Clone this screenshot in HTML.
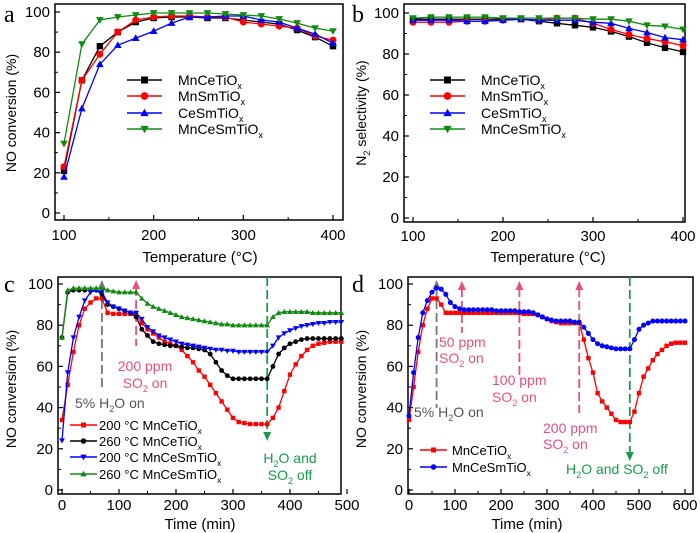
<!DOCTYPE html>
<html><head><meta charset="utf-8">
<style>
html,body{margin:0;padding:0;background:#fff;width:700px;height:533px;overflow:hidden}
svg{display:block;font-family:"Liberation Sans",Arial,sans-serif}
</style></head>
<body>
<svg id="fig" width="700" height="533" viewBox="0 0 700 533" xmlns="http://www.w3.org/2000/svg"></svg>
<script>
// ---- Data ----
const tempsA = [100,120,140,160,180,200,220,240,260,280,300,320,340,360,380,400];
const aMnCe = [21,66,83,90,95,97,97.5,97.5,97,97,96,95,94,91,87.5,83];
const aMnSm = [23,66,79,90,96,97.5,98,98,97.5,97.5,95,94,93,92,88,86];
const aCeSm = [18,52,74,83.5,87,90.5,94.5,97.5,97.5,98,98,96,95,92,89,84.5];
const aMnCeSm = [34.5,84,96,97.5,98.5,99.5,99.5,99.5,99.5,99,98.5,98,96.5,94.5,92,90.5];

const bMnCe = [97,97,97,97,97,97,97,96,95,94,93,91,88.5,85.5,83,81];
const bMnSm = [95.5,95.5,95.5,96,96,96.5,97,96.5,97.5,97.5,95,92,89.5,87.5,86,84];
const bCeSm = [96.5,96.5,96.5,96,96,96.5,97,96.5,96.5,96.5,95.5,95,92.5,90.5,88,87];
const bMnCeSm = [97.5,98,98,98,98,97.5,97.5,97.5,97.5,97.5,97,97,96,94,93.5,92];

const timesC = [0,10,20,30,40,50,60,70,80,90,100,110,120,130,140,150,160,170,180,190,200,210,220,230,240,250,260,270,280,290,300,310,320,330,340,350,360,370,380,390,400,410,420,430,440,450,460,470,480,490];
const c200MnCe = [34,51,67,80,88,91,93,93,86,85.5,85.5,85.5,85.5,85,81,78,76,74,72,71,70,68,65,62,58,55,51,47,43,39,35,33,32.5,32,32,32,32,35,40,48,56,61,65,68,70,71,71.5,72,72,72];
const c260MnCe = [74,96,97,97,97,97,97,95,90,89,88,87,86,84,78,75,72,71,70.5,70,70,69.5,69,69,68.5,68,66,62,58,55.5,54,54,54,54,54,54,54,60,66,69,71,72,73,73.5,73.5,73.5,73.5,73.5,73.5,73.5];
const c200MnCeSm = [24,57,74,84,92,96,97,96,91,89,88,87,86,86,83,79,77,75,74,73,72,71,70.5,70,69.5,69,68.5,68,68,67.5,67.5,67,67,67,67,67,67,70,74,76,77.5,78.5,79.5,80,80.5,81,81,81.5,81.5,81.5];
const c260MnCeSm = [74,97,98,98,98,98,98,98,97,96.5,96,96,96,96,93,90.5,89,88,87,86,85,84,83.5,83,82.5,82,81.5,81,80.5,80.5,80,80,80,80,80,80,80,84,86,86.5,86.5,86.5,86.5,86.5,86,86,86,86,86,86];

const timesD = [0,10,20,30,40,50,60,70,80,90,100,110,120,130,140,150,160,170,180,190,200,210,220,230,240,250,260,270,280,290,300,310,320,330,340,350,360,370,380,390,400,410,420,430,440,450,460,470,480,490,500,510,520,530,540,550,560,570,580,590,600];
const dMnCe = [34,50,67,80,88,93,93,90,86,86,86,86,86,86,86,86,86,86,86,86,86,86,86,86,86,85.5,85.5,85.5,85,84,83,82,81.5,81,81,81,81,81,73,64,57,47,43,40,37,34,33,33,33,38,47,55,59,63,66,68,70,71,71.5,71.5,71.5];
const dMnCeSm = [36,57,74,86,92,96,98,97.5,95,91,89,88,87.5,87.5,87.5,87.5,87.5,87.5,87.5,87,87,87,87,87,86.5,86.5,86.5,86,85,84,83,82.5,82,82,82,82,81.5,81.5,79,76,73,71,70,69.5,69,68.5,68.5,68.5,68.5,73,78,80,81,82,82,82,82,82,82,82,82];

// ---- Helpers ----
const NS = "http://www.w3.org/2000/svg";
const svg = document.getElementById('fig');
function el(tag, attrs, parent){const e=document.createElementNS(NS,tag);for(const k in attrs)e.setAttribute(k,attrs[k]);(parent||svg).appendChild(e);return e;}
function scale(d0,d1,r0,r1){return v=>r0+(v-d0)*(r1-r0)/(d1-d0);}

function marker(g,type,x,y,r,color){
  let m;
  if(type==='square') m=el('rect',{x:x-r,y:y-r,width:2*r,height:2*r,fill:color},g);
  else if(type==='circle') m=el('circle',{cx:x,cy:y,r:r*1.1,fill:color},g);
  else if(type==='up') m=el('polygon',{points:`${x},${y-r*1.2} ${x-r*1.2},${y+r*0.9} ${x+r*1.2},${y+r*0.9}`,fill:color},g);
  else m=el('polygon',{points:`${x},${y+r*1.2} ${x-r*1.2},${y-r*0.9} ${x+r*1.2},${y-r*0.9}`,fill:color},g);
  
  
}

function series(g,name,xs,ys,sx,sy,color,type,r){
  const s=el('g',{},g);
  
  
  const pts=xs.map((x,i)=>sx(x).toFixed(1)+','+sy(ys[i]).toFixed(1)).join(' ');
  el('polyline',{points:pts,fill:'none',stroke:color,'stroke-width':1.3},s);
  xs.forEach((x,i)=>marker(s,type,sx(x),sy(ys[i]),r,color));
}

function subText(g,x,y,parts,size,color,anchor){
  const t=el('text',{x:x,y:y,'font-size':size,fill:color,'text-anchor':anchor||'start'},g);
  parts.forEach(p=>{
    const ts=el('tspan',{},t);
    ts.textContent=p[0];
    if(p[1]==='sub'){ts.setAttribute('font-size',size*0.65);ts.setAttribute('dy',size*0.3);}
    if(p[1]==='back'){ts.setAttribute('dy',-size*0.3);}
  });
  return t;
}

function axes(cfg){
  const g=el('g',{});
  
  
  el('rect',{x:cfg.box[0],y:cfg.box[1],width:cfg.box[2]-cfg.box[0],height:cfg.box[3]-cfg.box[1],fill:'none',stroke:'#000','stroke-width':1.5},g);
  const sx=scale(cfg.xd[0],cfg.xd[1],cfg.xr[0],cfg.xr[1]);
  const sy=scale(0,100,cfg.y0,cfg.y100);
  const bot=cfg.box[3],left=cfg.box[0];
  cfg.xticks.forEach(v=>{
    const x=sx(v);
    el('line',{x1:x,y1:bot,x2:x,y2:bot-5,stroke:'#000','stroke-width':1.2},g);
    const t=el('text',{x:x,y:bot+cfg.tickDy,'font-size':15,'text-anchor':'middle'},g);
    t.textContent=v;
    
    
  });
  cfg.xminor.forEach(v=>{const x=sx(v);el('line',{x1:x,y1:bot,x2:x,y2:bot-3,stroke:'#000','stroke-width':1},g);});
  [0,20,40,60,80,100].forEach(v=>{
    const y=sy(v);
    el('line',{x1:left,y1:y,x2:left+5,y2:y,stroke:'#000','stroke-width':1.2},g);
    const t=el('text',{x:left-5,y:y+5,'font-size':15,'text-anchor':'end'},g);
    t.textContent=v;
    
    
  });
  [10,30,50,70,90].forEach(v=>{const y=sy(v);el('line',{x1:left,y1:y,x2:left+3,y2:y,stroke:'#000','stroke-width':1},g);});
  const xt=el('text',{x:cfg.xtitle[0],y:cfg.xtitle[1],'font-size':15,'text-anchor':'middle'},g);
  xt.textContent=cfg.xtitle[2];
  
  
  const yg=el('g',{transform:`translate(${cfg.ytitle[0]},${cfg.ytitle[1]}) rotate(-90)`},g);
  const yt=subText(yg,0,0,cfg.ytitle[2],14,'#000','middle');
  
  
  const pl=el('text',{x:cfg.letter[0],y:cfg.letter[1],'font-size':24,'font-family':'Liberation Serif, serif'},g);
  pl.textContent=cfg.letter[2];
  
  
  return {g,sx,sy};
}

function legendEntry(g,x1,x2,tx,y,color,type,r,parts,size){
  const le=el('g',{},g);
  
  
  el('line',{x1:x1,y1:y,x2:x2,y2:y,stroke:color,'stroke-width':1.5},le);
  marker(le,type,(x1+x2)/2,y,r,color);
  subText(le,tx,y+5,parts,size,'#000');
}

function arrow(g,x,yTop,yBot,color,up,name){
  const a=el('g',{},g);
  
  
  if(up){
    el('line',{x1:x,y1:yTop+7,x2:x,y2:yBot,stroke:color,'stroke-width':1.8,'stroke-dasharray':'9,4'},a);
    el('polygon',{points:`${x},${yTop} ${x-4},${yTop+9} ${x+4},${yTop+9}`,fill:color},a);
  } else {
    el('line',{x1:x,y1:yTop,x2:x,y2:yBot-7,stroke:color,'stroke-width':1.8,'stroke-dasharray':'9,4'},a);
    el('polygon',{points:`${x},${yBot} ${x-4},${yBot-9} ${x+4},${yBot-9}`,fill:color},a);
  }
}

const BL='#000', RD='#f00', BU='#00f', GN='#108a10';
const PINK='#e8507a', GRAY='#777', DGN='#1a9a4a';

// ---- Panel a ----
const A=axes({name:'panel-a',box:[55,4,343,220],xd:[100,400],xr:[64,333],y0:213,y100:12,tickDy:20,
  xticks:[100,200,300,400],xminor:[150,250,350],xtitle:[200,262,'Temperature (°C)'],
  ytitle:[16,113,[['NO conversion (%)']]],letter:[4,22,'a']});
series(A.g,'series-mncetiox',tempsA,aMnCe,A.sx,A.sy,BL,'square',3.2);
series(A.g,'series-mnsmtiox',tempsA,aMnSm,A.sx,A.sy,RD,'circle',3.2);
series(A.g,'series-cesmtiox',tempsA,aCeSm,A.sx,A.sy,BU,'up',3.2);
series(A.g,'series-mncesmtiox',tempsA,aMnCeSm,A.sx,A.sy,GN,'down',3.2);
const LA=el('g',{});
legendEntry(LA,127,162,178,80,BL,'square',3.5,[['MnCeTiO'],['x','sub']],14);
legendEntry(LA,127,162,178,96,RD,'circle',3.5,[['MnSmTiO'],['x','sub']],14);
legendEntry(LA,127,162,178,113,BU,'up',3.5,[['CeSmTiO'],['x','sub']],14);
legendEntry(LA,127,162,178,129,GN,'down',3.5,[['MnCeSmTiO'],['x','sub']],14);

// ---- Panel b ----
const B=axes({name:'panel-b',box:[404,4,685,222],xd:[100,400],xr:[413,683],y0:218,y100:13,tickDy:19,
  xticks:[100,200,300,400],xminor:[150,250,350],xtitle:[548,262,'Temperature (°C)'],
  ytitle:[366,113,[['N'],['2','sub'],[' selectivity (%)','back']]],letter:[352,22,'b']});
series(B.g,'series-mncetiox',tempsA,bMnCe,B.sx,B.sy,BL,'square',3.2);
series(B.g,'series-mnsmtiox',tempsA,bMnSm,B.sx,B.sy,RD,'circle',3.2);
series(B.g,'series-cesmtiox',tempsA,bCeSm,B.sx,B.sy,BU,'up',3.2);
series(B.g,'series-mncesmtiox',tempsA,bMnCeSm,B.sx,B.sy,GN,'down',3.2);
const LB=el('g',{});
legendEntry(LB,430,465,481,80,BL,'square',3.5,[['MnCeTiO'],['x','sub']],14);
legendEntry(LB,430,465,481,96,RD,'circle',3.5,[['MnSmTiO'],['x','sub']],14);
legendEntry(LB,430,465,481,113,BU,'up',3.5,[['CeSmTiO'],['x','sub']],14);
legendEntry(LB,430,465,481,129,GN,'down',3.5,[['MnCeSmTiO'],['x','sub']],14);

// ---- Panel c ----
const C=axes({name:'panel-c',box:[58,277,341,494],xd:[0,500],xr:[62,347],y0:490,y100:284,tickDy:16,
  xticks:[0,100,200,300,400,500],xminor:[50,150,250,350,450],xtitle:[200,529,'Time (min)'],
  ytitle:[16,389,[['NO conversion (%)']]],letter:[4,292,'c']});
arrow(C.g,C.sx(70),280,390,GRAY,true,'water-on-arrow');
arrow(C.g,C.sx(130),280,346,PINK,true,'so2-on-arrow');
arrow(C.g,C.sx(360),277,441,DGN,false,'gases-off-arrow');
series(C.g,'series-200-mncetiox',timesC,c200MnCe,C.sx,C.sy,RD,'square',2.2);
series(C.g,'series-260-mncetiox',timesC,c260MnCe,C.sx,C.sy,BL,'circle',2.2);
series(C.g,'series-200-mncesmtiox',timesC,c200MnCeSm,C.sx,C.sy,BU,'down',2.4);
series(C.g,'series-260-mncesmtiox',timesC,c260MnCeSm,C.sx,C.sy,GN,'up',2.4);
let t;
t=subText(C.g,75,408,[['5% H'],['2','sub'],['O on','back']],14,'#555');
t=subText(C.g,145,371,[['200 ppm']],14,PINK,'middle');
t=subText(C.g,145,388,[['SO'],['2','sub'],[' on','back']],14,PINK,'middle');
t=subText(C.g,290,463,[['H'],['2','sub'],['O and','back']],14,DGN,'middle');
t=subText(C.g,290,480,[['SO'],['2','sub'],[' off','back']],14,DGN,'middle');
const LC=el('g',{});
legendEntry(LC,70,97,99,425,RD,'square',2.5,[['200 °C MnCeTiO'],['x','sub']],13);
legendEntry(LC,70,97,99,441,BL,'circle',2.5,[['260 °C MnCeTiO'],['x','sub']],13);
legendEntry(LC,70,97,99,457,BU,'down',2.7,[['200 °C MnCeSmTiO'],['x','sub']],13);
legendEntry(LC,70,97,99,474,GN,'up',2.7,[['260 °C MnCeSmTiO'],['x','sub']],13);

// ---- Panel d ----
const D=axes({name:'panel-d',box:[408,277,693,494],xd:[0,600],xr:[409,685],y0:490,y100:284,tickDy:16,
  xticks:[0,100,200,300,400,500,600],xminor:[50,150,250,350,450,550],xtitle:[527,529,'Time (min)'],
  ytitle:[366,389,[['NO conversion (%)']]],letter:[352,292,'d']});
arrow(D.g,D.sx(60),280,408,GRAY,true,'water-on-arrow');
arrow(D.g,D.sx(115),281,333,PINK,true,'so2-50-arrow');
arrow(D.g,D.sx(240),281,376,PINK,true,'so2-100-arrow');
arrow(D.g,D.sx(370),281,413,PINK,true,'so2-200-arrow');
arrow(D.g,D.sx(480),277,461,DGN,false,'gases-off-arrow');
series(D.g,'series-mncetiox',timesD,dMnCe,D.sx,D.sy,RD,'square',2.2);
series(D.g,'series-mncesmtiox',timesD,dMnCeSm,D.sx,D.sy,BU,'circle',2.3);
t=subText(D.g,414,417,[['5% H'],['2','sub'],['O on','back']],14,'#555');
t=subText(D.g,439,347,[['50 ppm']],14,PINK);
t=subText(D.g,439,363,[['SO'],['2','sub'],[' on','back']],14,PINK);
t=subText(D.g,492,385,[['100 ppm']],14,PINK);
t=subText(D.g,492,402,[['SO'],['2','sub'],[' on','back']],14,PINK);
t=subText(D.g,543,433,[['200 ppm']],14,PINK);
t=subText(D.g,543,449,[['SO'],['2','sub'],[' on','back']],14,PINK);
t=subText(D.g,566,474,[['H'],['2','sub'],['O and SO','back'],['2','sub'],[' off','back']],14,DGN);
const LD=el('g',{});
legendEntry(LD,420,447,452,450,RD,'square',2.5,[['MnCeTiO'],['x','sub']],13);
legendEntry(LD,420,447,452,467,BU,'circle',2.5,[['MnCeSmTiO'],['x','sub']],13);
</script>
</body></html>
